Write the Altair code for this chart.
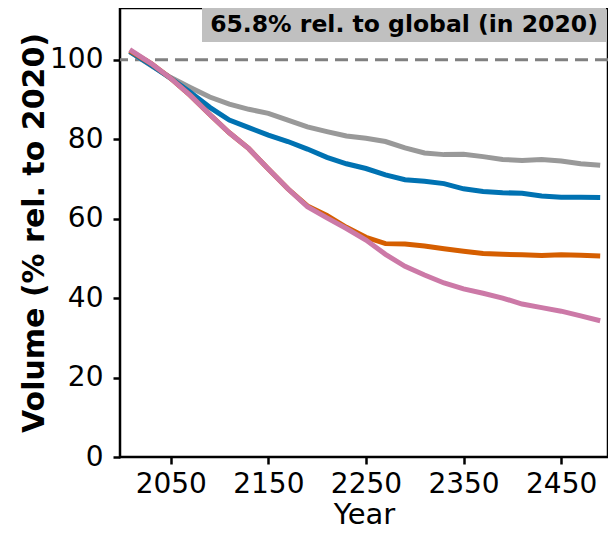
import altair as alt
import pandas as pd

years = [2008, 2030, 2050, 2070, 2090, 2110, 2130, 2150, 2170, 2190, 2210, 2230, 2250,
         2270, 2290, 2310, 2330, 2350, 2370, 2390, 2410, 2430, 2450, 2470, 2490]

gray_vals = [102.0, 98.5, 95.5, 93.0, 90.6, 88.8, 87.5, 86.5, 84.8, 83.1, 81.9, 80.8, 80.2,
             79.4, 77.8, 76.5, 76.1, 76.2, 75.6, 74.9, 74.6, 74.9, 74.5, 73.8, 73.4]
blue_vals = [102.0, 98.6, 95.3, 91.8, 88.0, 84.8, 82.9, 81.0, 79.4, 77.5, 75.4, 73.8, 72.6,
             71.0, 69.8, 69.4, 68.8, 67.5, 66.8, 66.5, 66.4, 65.7, 65.4, 65.4, 65.3]
orange_vals = [102.3, 99.0, 95.3, 91.0, 86.2, 81.6, 77.6, 72.5, 67.5, 63.2, 60.8, 57.8, 55.3,
               53.7, 53.6, 53.1, 52.4, 51.8, 51.2, 51.0, 50.9, 50.7, 50.9, 50.8, 50.6]
pink_vals = [102.5, 99.0, 95.3, 91.0, 86.2, 81.6, 77.6, 72.5, 67.5, 63.0, 60.2, 57.5, 54.6,
             51.0, 48.0, 45.8, 43.8, 42.3, 41.2, 40.0, 38.5, 37.6, 36.7, 35.5, 34.3]

series = [("gray", "#999999", gray_vals), ("blue", "#0072B2", blue_vals),
          ("orange", "#D55E00", orange_vals), ("pink", "#CC79A7", pink_vals)]

x_ticks = [2050, 2150, 2250, 2350, 2450]
y_ticks = [0, 20, 40, 60, 80, 100]
ref_value = 100
annotation = "65.8% rel. to global (in 2020)"

FONT = "DejaVu Sans"

x_scale = alt.Scale(domain=[1998, 2498], nice=False, zero=False)
y_scale = alt.Scale(domain=[0, 113], nice=False)

x_axis = alt.Axis(values=x_ticks, format="d", title="Year", grid=False,
                  labelFontSize=28, titleFontSize=29, titleFontWeight="normal",
                  tickSize=7, tickWidth=2.5, domain=False, labelPadding=6, titlePadding=2,
                  labelColor="black", titleColor="black", tickColor="black", labelFlush=False)
y_axis = alt.Axis(values=y_ticks, title="Volume (% rel. to 2020)", grid=False,
                  labelFontSize=28, titleFontSize=30, titleFontWeight="bold",
                  tickSize=7, tickWidth=2.5, domain=False, labelPadding=10, titlePadding=0,
                  labelColor="black", titleColor="black", tickColor="black")

rows = []
for name, color, vals in series:
    for yr, v in zip(years, vals):
        rows.append({"Year": yr, "Volume": v, "series": name})
df_all = pd.DataFrame(rows)

layers = []

ref = alt.Chart(pd.DataFrame({"v": [ref_value]})).mark_rule(
    color="#808080", strokeWidth=3, strokeDash=[13, 7]
).encode(y=alt.Y("v:Q", scale=y_scale, axis=y_axis))
layers.append(ref)

for name, color, vals in series:
    ln = alt.Chart(df_all).transform_filter(alt.datum.series == name).mark_line(
        color=color, strokeWidth=5, strokeCap="butt"
    ).encode(
        x=alt.X("Year:Q", scale=x_scale, axis=x_axis),
        y=alt.Y("Volume:Q", scale=y_scale, axis=y_axis),
    )
    layers.append(ln)

box = alt.Chart(pd.DataFrame({"t": [annotation]})).mark_rect(color="#c0c0c0").encode(
    x=alt.value(82), x2=alt.value(486), y=alt.value(0), y2=alt.value(34)
)
txt = alt.Chart(pd.DataFrame({"t": [annotation]})).mark_text(
    font=FONT, fontSize=23.5, fontWeight="bold", color="black", align="center", baseline="middle"
).encode(x=alt.value(284), y=alt.value(17), text="t:N")
layers += [box, txt]

chart = alt.layer(*layers).properties(
    width=488, height=449,
    padding={"left": 112, "top": 0, "right": 0, "bottom": 72},
    autosize=alt.AutoSizeParams(type="none"),
).configure(font=FONT).configure_view(
    stroke="black", strokeWidth=2.5
).configure_axis(labelFont=FONT, titleFont=FONT)

chart.save("out.html", embed_options={"renderer": "svg", "actions": False})
